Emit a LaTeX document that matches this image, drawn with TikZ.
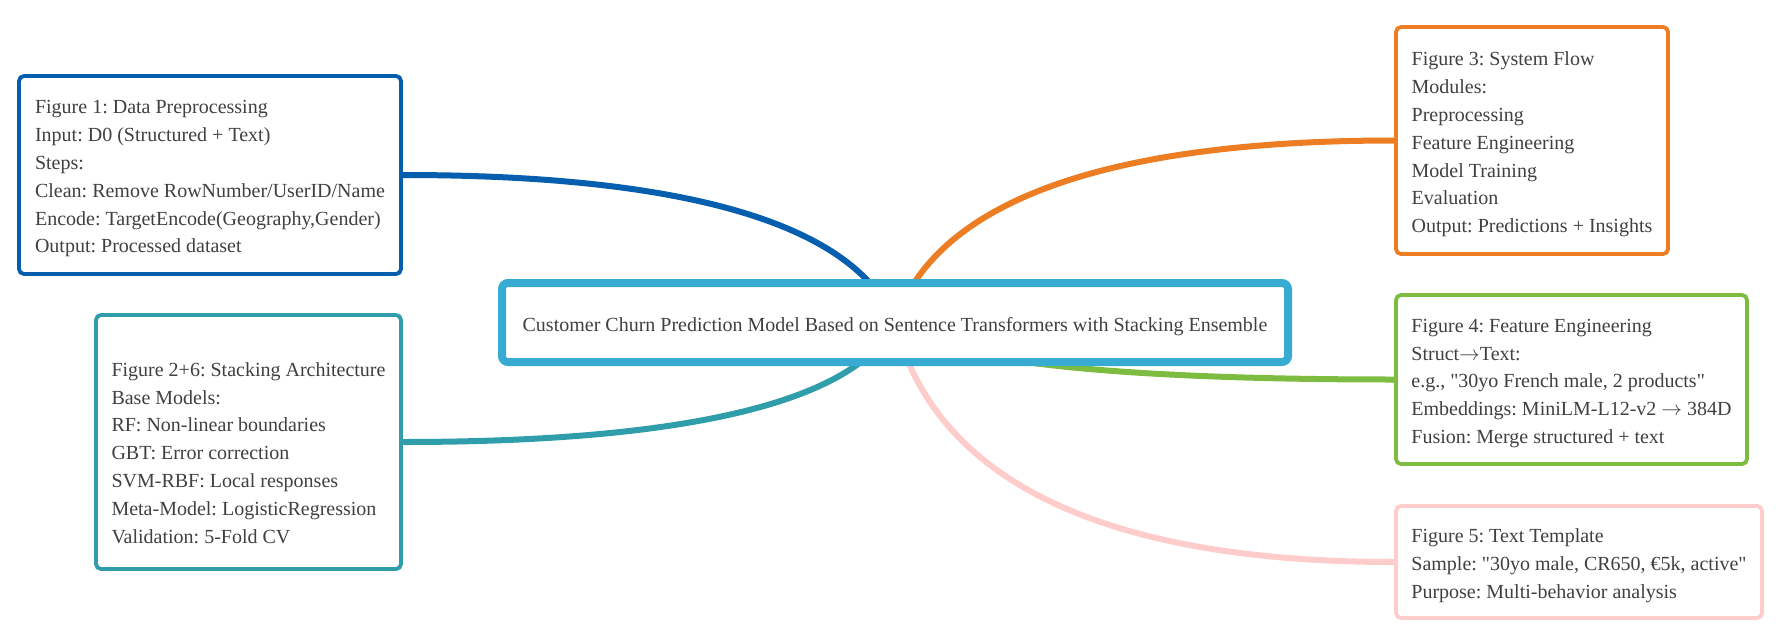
\documentclass[tikz,border=0pt]{standalone}
\usepackage{fontspec}
\newfontfamily\lserif{Liberation Serif}
\usetikzlibrary{calc}
\pgfdeclarelayer{background}
\pgfsetlayers{background,main}
\definecolor{cblue}{HTML}{065EAE}
\definecolor{cteal}{HTML}{2F9EAA}
\definecolor{croot}{HTML}{38ABD2}
\definecolor{corange}{HTML}{EC7D23}
\definecolor{cgreen}{HTML}{7DBC41}
\definecolor{cpink}{HTML}{FFCCCC}
\definecolor{ctext}{HTML}{404040}
\newcommand\rarr{\ensuremath{\rightarrow}}
\tikzset{
  boxtext/.style={font=\lserif\frenchspacing\fontsize{20}{27.8}\selectfont, text=ctext, inner sep=0pt, yshift=-4pt},
  leaf/.style={draw, fill=white, line width=3.8pt, rounded corners=5pt, inner sep=0pt},
  leaftext/.style={boxtext, align=left},
  rootbox/.style={draw=croot, fill=white, line width=8pt, rounded corners=6pt, inner sep=0pt},
  conn/.style={line width=6pt, line cap=round}
}
\newcommand\mmbranch[2]{%
  \draw[conn,#2] let \p1=(root.center), \p2=(#1) in
    (\p1) .. controls ({\x1+0.077*(\x2-\x1)},{\y1+0.64*(\y2-\y1)}) and ({\x1+0.4*(\x2-\x1)},\y2) .. (\p2);}
\begin{document}
\begin{tikzpicture}[x=1pt,y=-1pt]
\useasboundingbox (0,0) rectangle (1782,632);
\node[rootbox, minimum width=786pt, minimum height=79pt] (root) at (895,322.5) {};
\node[boxtext] (roottext) at (root.center)
  {Customer Churn Prediction Model Based on Sentence Transformers with Stacking Ensemble};
\node[leaf, draw=cblue, minimum width=382pt, minimum height=198pt] (b1) at (210,175) {};
\node[leaftext] (t1) at (b1.center)
  {Figure 1: Data Preprocessing\\Input: D0 (Structured + Text)\\Steps:\\Clean: Remove RowNumber/UserID/Name\\Encode: TargetEncode(Geography,Gender)\\Output: Processed dataset};
\node[leaf, draw=cteal, minimum width=305pt, minimum height=254pt] (b2) at (248.5,442) {};
\node[leaftext] (t2) at (b2.center)
  {\mbox{}\\Figure 2+6: Stacking Architecture\\Base Models:\\RF: Non-linear boundaries\\GBT: Error correction\\SVM-RBF: Local responses\\Meta-Model: LogisticRegression\\Validation: 5-Fold CV};
\node[leaf, draw=corange, minimum width=272pt, minimum height=227pt] (b3) at (1532,140.5) {};
\node[leaftext] (t3) at (b3.center)
  {Figure 3: System Flow\\Modules:\\Preprocessing\\Feature Engineering\\Model Training\\Evaluation\\Output: Predictions + Insights};
\node[leaf, draw=cgreen, minimum width=351pt, minimum height=169pt] (b4) at (1571.5,379.5) {};
\node[leaftext] (t4) at (b4.center)
  {Figure 4: Feature Engineering\\Struct\rarr Text:\\e.g., "30yo French male, 2 products"\\Embeddings: MiniLM-L12-v2 \rarr{} 384D\\Fusion: Merge structured + text};
\node[leaf, draw=cpink, minimum width=366pt, minimum height=112pt] (b5) at (1579,562) {};
\node[leaftext] (t5) at (b5.center)
  {Figure 5: Text Template\\Sample: "30yo male, CR650, €5k, active"\\Purpose: Multi-behavior analysis};
\begin{pgfonlayer}{background}
\mmbranch{b1.east}{cblue}
\mmbranch{b2.east}{cteal}
\mmbranch{b3.west}{corange}
\mmbranch{b4.west}{cgreen}
\mmbranch{b5.west}{cpink}
\end{pgfonlayer}
\end{tikzpicture}
\end{document}
